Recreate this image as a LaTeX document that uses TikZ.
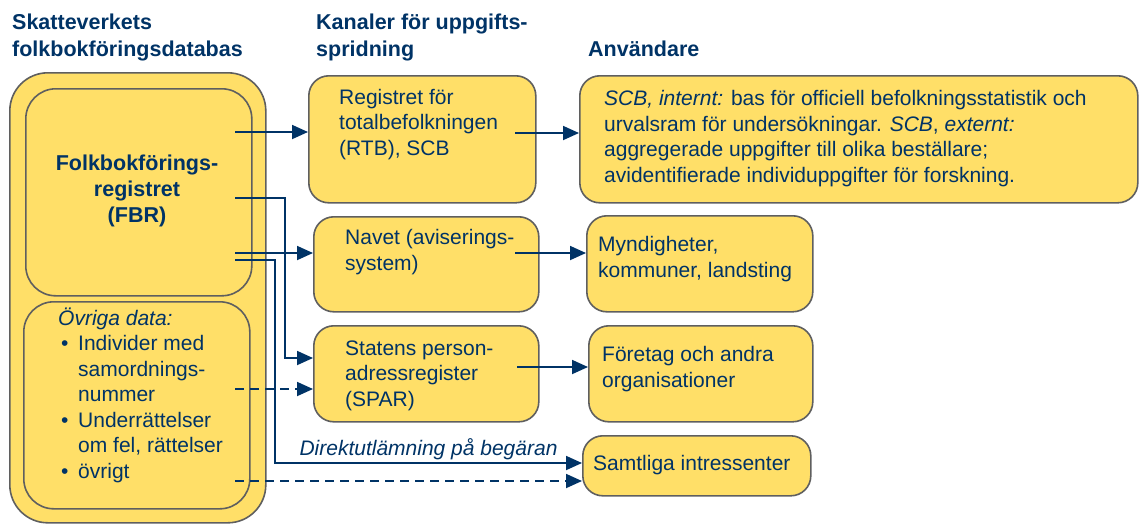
\documentclass[tikz,border=0pt]{standalone}
\usepackage{fontspec}
\setmainfont{Liberation Sans}
\usetikzlibrary{arrows.meta}
\definecolor{boxfill}{RGB}{255,223,104}
\definecolor{boxline}{RGB}{95,95,95}
\definecolor{navy}{RGB}{0,51,102}
\tikzset{
  box/.style={draw=boxline, fill=boxfill, line width=1.6pt, rounded corners=20pt, anchor=north west, inner sep=0pt},
  txt/.style={text=navy, font=\fontsize{21}{25.5}\selectfont, align=left, anchor=base west, inner sep=0pt},
  head/.style={txt, font=\bfseries\fontsize{21.5}{27}\selectfont},
  flow/.style={draw=navy, line width=1.8pt, -{Triangle[length=16pt,width=14pt]}},
  flowdash/.style={flow, dash pattern=on 9pt off 6pt}
}

\begin{document}
\begin{tikzpicture}[x=1pt,y=-1pt]
  \useasboundingbox (0,0) rectangle (1139,523);
  % column headers (anchored on last baseline)
  \node[head] (h1) at (12,56) {Skatteverkets\\folkbokföringsdatabas};
  \node[head] (h2) at (316,56) {Kanaler för uppgifts-\\spridning};
  \node[head] (h3) at (588,56) {Användare};
  % boxes
  \node[box, rounded corners=38pt, minimum width=256pt, minimum height=450pt] (db) at (9,72) {};
  \node[box, rounded corners=30pt, minimum width=226pt, minimum height=207pt] (fbr) at (25,88) {};
  \node[box, rounded corners=30pt, minimum width=226pt, minimum height=207pt] (ovr) at (23,301) {};
  \node[box, minimum width=227pt, minimum height=127pt] (rtb) at (308,75) {};
  \node[box, minimum width=225pt, minimum height=95pt] (navet) at (313,216) {};
  \node[box, minimum width=225pt, minimum height=96pt] (spar) at (313,325) {};
  \node[box, minimum width=558pt, minimum height=127pt] (scb) at (579,75) {};
  \node[box, minimum width=226pt, minimum height=96pt] (myn) at (586,215) {};
  \node[box, minimum width=224pt, minimum height=96pt] (ftg) at (588,325) {};
  \node[box, minimum width=228pt, minimum height=60pt] (samt) at (582,435) {};
  % texts
  \node[head, align=center, anchor=base, font=\bfseries\fontsize{21.5}{26}\selectfont] (fbrtxt) at (137,222) {Folkbokförings-\\registret\\(FBR)};
  \node[txt] (ovrtxt) at (58,478) {\textit{Övriga data:}\\
    \hspace*{3pt}\makebox[17pt][l]{•}Individer med\\
    \hspace*{20pt}samordnings-\\
    \hspace*{20pt}nummer\\
    \hspace*{3pt}\makebox[17pt][l]{•}Underrättelser\\
    \hspace*{20pt}om fel, rättelser\\
    \hspace*{3pt}\makebox[17pt][l]{•}övrigt};
  \node[txt] (rtbtxt) at (339,155) {Registret för\\totalbefolkningen\\(RTB), SCB};
  \node[txt] (navettxt) at (345,270) {Navet (aviserings-\\system)};
  \node[txt] (spartxt) at (345,406) {Statens person-\\adressregister\\(SPAR)};
  \node[txt] (scbtxt) at (604,182) {\textit{SCB, internt:} bas för officiell befolkningsstatistik och\\
    urvalsram för undersökningar. \textit{SCB}, \textit{externt:}\\
    aggregerade uppgifter till olika beställare;\\
    avidentifierade individuppgifter för forskning.};
  \node[txt] (myntxt) at (598,277) {Myndigheter,\\kommuner, landsting};
  \node[txt] (ftgtxt) at (602,387) {Företag och andra\\organisationer};
  \node[txt] (samttxt) at (593,470) {Samtliga intressenter};
  % connectors
  \coordinate (f1) at (235,132);
  \coordinate (f2) at (235,198);
  \coordinate (f3) at (235,253);
  \coordinate (f4) at (235,260);
  \coordinate (k2) at (285,358);
  \coordinate (k4) at (275,463);
  \coordinate (o1) at (235,389);
  \coordinate (o2) at (235,481);
  \coordinate (r1) at (515,133);
  \coordinate (r2) at (515,253);
  \coordinate (r3) at (517,367);
  \draw[flow] (f1) -- (f1 -| rtb.west);
  \draw[flow] (f3) -- (f3 -| navet.west);
  \draw[flow] (f2) -| (k2) -- (k2 -| spar.west);
  \draw[flow] (f4) -| (k4) -- (k4 -| samt.west)
    node[midway, txt, anchor=base, yshift=8pt, font=\itshape\fontsize{21}{25.5}\selectfont] (direkt) {Direktutlämning på begäran};
  \draw[flowdash] (o1) -- (o1 -| spar.west);
  \draw[flowdash] (o2) -- (o2 -| samt.west);
  \draw[flow] (r1) -- (r1 -| scb.west);
  \draw[flow] (r2) -- (r2 -| myn.west);
  \draw[flow] (r3) -- (r3 -| ftg.west);
\end{tikzpicture}
\end{document}
